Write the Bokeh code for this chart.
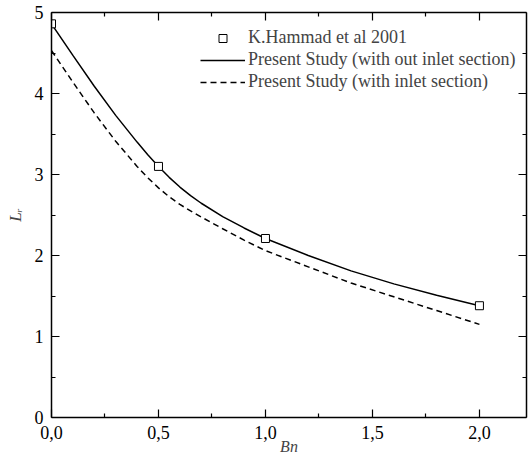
import math
from bokeh.plotting import figure
from bokeh.models import (LinearAxis, Range1d, CustomJSTickFormatter, Legend, LegendItem,
                          FixedTicker)
from bokeh.embed import file_html
from bokeh.resources import INLINE

# --- data -------------------------------------------------------------
hammad_bn = [0.0, 0.5, 1.0, 2.0]
hammad_lr = [4.86, 3.10, 2.21, 1.38]

study_bn = [0.0, 0.1, 0.2, 0.3, 0.4, 0.45, 0.5, 0.55, 0.6, 0.65, 0.7, 0.8, 0.9, 1.0,
            1.2, 1.4, 1.6, 1.8, 2.0]
no_inlet_lr = [4.86, 4.47, 4.09, 3.73, 3.40, 3.245, 3.10, 2.965, 2.845, 2.74, 2.645, 2.48, 2.34,
               2.21, 2.00, 1.81, 1.65, 1.51, 1.38]
inlet_lr = [4.53, 4.14, 3.76, 3.41, 3.10, 2.96, 2.835, 2.725, 2.63, 2.55, 2.475, 2.33, 2.19,
            2.06, 1.86, 1.66, 1.49, 1.32, 1.15]

x_ticks = [0.0, 0.5, 1.0, 1.5, 2.0]
x_minor = [0.25, 0.75, 1.25, 1.75, 2.25]
y_ticks = [0, 1, 2, 3, 4, 5]
y_minor = [0.5, 1.5, 2.5, 3.5, 4.5]

label_hammad = "K.Hammad et al 2001"
label_no_inlet = "Present Study (with out inlet section)"
label_inlet = "Present Study (with inlet section)"

FONT = "'Liberation Serif', 'Times New Roman', serif"

p = figure(width=528, height=457, output_backend="svg", toolbar_location=None,
           x_range=Range1d(0, 2.22), y_range=Range1d(0, 5),
           min_border_left=51, min_border_right=2, min_border_top=12, min_border_bottom=40,
           x_axis_location=None, y_axis_location=None)
p.xgrid.visible = False
p.ygrid.visible = False
p.outline_line_color = None
p.background_fill_color = "white"
p.border_fill_color = "white"

fmt = CustomJSTickFormatter(code="return tick.toFixed(1).replace('.', ',');")
blank = CustomJSTickFormatter(code="return '';")

def style_axis(ax, show_labels):
    ax.axis_line_width = 1.5
    ax.axis_line_color = "black"
    ax.major_tick_in = 8
    ax.major_tick_out = 0
    ax.minor_tick_in = 4
    ax.minor_tick_out = 0
    ax.major_tick_line_width = 1.2
    ax.minor_tick_line_width = 1.2
    ax.major_tick_line_color = "black"
    ax.minor_tick_line_color = "black"
    ax.major_label_text_font = FONT
    ax.major_label_text_font_size = "18px"
    ax.major_label_text_color = "black"
    ax.major_label_standoff = 8 if show_labels else 0

xt = FixedTicker(ticks=x_ticks, minor_ticks=x_minor)
yt = FixedTicker(ticks=y_ticks, minor_ticks=y_minor)

bottom = LinearAxis(ticker=xt, formatter=fmt)
style_axis(bottom, True)
bottom.axis_label = "Bn"
bottom.axis_label_text_font = FONT
bottom.axis_label_text_font_style = "italic"
bottom.axis_label_text_font_size = "16px"
bottom.axis_label_standoff = -4
top = LinearAxis(ticker=xt, formatter=blank)
style_axis(top, False)
left = LinearAxis(ticker=yt)
style_axis(left, True)
left.axis_label = "Lᵣ"
left.axis_label_text_font = FONT
left.axis_label_text_font_style = "italic"
left.axis_label_text_font_size = "17px"
left.axis_label_standoff = 7
right = LinearAxis(ticker=yt, formatter=blank)
style_axis(right, False)
p.add_layout(bottom, "below")
p.add_layout(top, "above")
p.add_layout(left, "left")
p.add_layout(right, "right")

r_no = p.line(study_bn, no_inlet_lr, line_color="black", line_width=1.5)
r_in = p.line(study_bn, inlet_lr, line_color="black", line_width=1.5, line_dash="6 4")
r_pts = p.scatter(hammad_bn, hammad_lr, marker="square", size=8, fill_color="white",
                  line_color="black", line_width=1)

legend = Legend(items=[LegendItem(label=label_hammad, renderers=[r_pts]),
                       LegendItem(label=label_no_inlet, renderers=[r_no]),
                       LegendItem(label=label_inlet, renderers=[r_in])],
                location=(149, 325), border_line_color=None, background_fill_alpha=0,
                label_text_font=FONT, label_text_font_size="18px",
                glyph_width=45, glyph_height=20, label_height=20, spacing=1,
                padding=0, margin=0, label_standoff=3)
p.add_layout(legend, "center")

open("out.html", "w").write(file_html(p, INLINE))
